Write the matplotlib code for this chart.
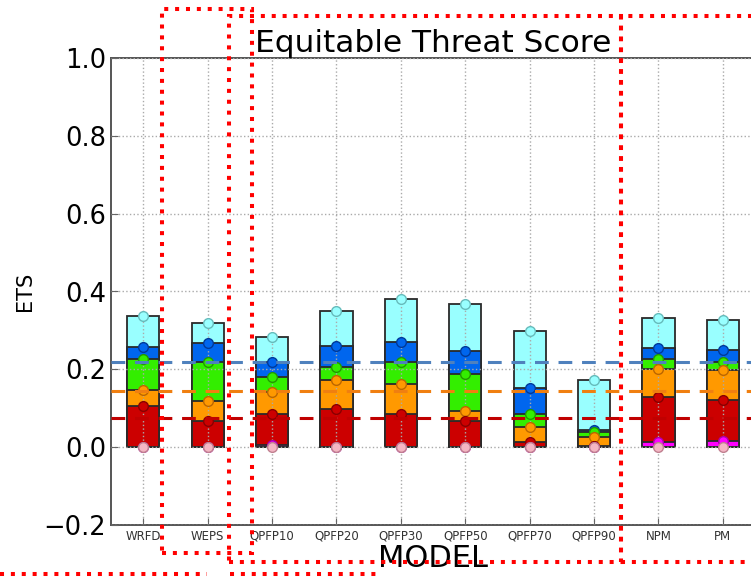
import matplotlib
matplotlib.use("Agg")
import matplotlib.pyplot as plt
import numpy as np
from matplotlib.patches import Rectangle
from matplotlib.lines import Line2D

models = ['WRFD', 'WEPS', 'QPFP10', 'QPFP20', 'QPFP30', 'QPFP50',
          'QPFP70', 'QPFP90', 'NPM', 'PM']

# ETS per threshold, lightest threshold first
ets_lvl1 = [0.338, 0.320, 0.282, 0.350, 0.380, 0.369, 0.298, 0.172, 0.332, 0.326]
ets_lvl2 = [0.258, 0.267, 0.219, 0.261, 0.269, 0.246, 0.153, 0.045, 0.254, 0.249]
ets_lvl3 = [0.226, 0.219, 0.181, 0.206, 0.219, 0.189, 0.085, 0.038, 0.226, 0.219]
ets_lvl4 = [0.148, 0.119, 0.142, 0.172, 0.163, 0.093, 0.052, 0.027, 0.200, 0.198]
ets_lvl5 = [0.106, 0.068, 0.085, 0.097, 0.084, 0.066, 0.012, 0.004, 0.129, 0.121]
ets_lvl6 = [0.0, 0.0, 0.005, 0.0, 0.0, 0.0, 0.0, 0.0, 0.012, 0.015]
ets_lvl7 = [0.0] * 10

# reference levels (dashed lines)
ref_values = [0.219, 0.145, 0.074]
ref_colors = ['#4f81bd', '#f07f10', '#c00000']

levels = [ets_lvl1, ets_lvl2, ets_lvl3, ets_lvl4, ets_lvl5, ets_lvl6, ets_lvl7]
fills = ['#99ffff', '#0066ee', '#33ee00', '#ff9900', '#cc0000', '#ff00ff', '#f4b6c4']
edges = ['#66bbbb', '#003a99', '#229900', '#bb6600', '#880000', '#aa00aa', '#c08090']

W, H = 751, 577
fig = plt.figure(figsize=(W / 100, H / 100), dpi=100)
# axes runs a little past the right edge
ax = fig.add_axes([111 / W, 1 - 525 / H, (755 - 111) / W, (525 - 58) / H])

x = np.arange(len(models))
for i, (vals, fc, ec) in enumerate(zip(levels, fills, edges)):
    ax.bar(x, vals, width=0.5, color=fc, edgecolor='#2a2a2a',
           linewidth=1.3, zorder=2 + i * 0.01)
for i, (vals, fc, ec) in enumerate(zip(levels, fills, edges)):
    ax.plot(x, vals, 'o', color=fc, mec=ec, mew=1.0, ms=7, zorder=5 + i * 0.01)

for v, c in zip(ref_values, ref_colors):
    ax.axhline(v, color=c, lw=2.2, dashes=(4.5, 3.2), zorder=6)

ax.set_xlim(-0.5, len(models) - 0.5)
ax.set_ylim(-0.2, 1.0)
ax.set_yticks(np.arange(-0.2, 1.01, 0.2))
ax.set_xticks(x)
ax.set_xticklabels(models, fontsize=8.5, color='#333333')
ax.tick_params(axis='y', labelsize=18.5, direction='in', length=5, color='#666666')
ax.tick_params(axis='x', direction='in', length=5, color='#666666')
ax.grid(True, linestyle=':', color='#aaaaaa', lw=1.0)
ax.set_axisbelow(False)
for s in ax.spines.values():
    s.set_color('#555555')
    s.set_linewidth(1.4)

ax.set_title('Equitable Threat Score', fontsize=22.5, pad=3)
ax.set_ylabel('ETS', fontsize=15, labelpad=6)
ax.set_xlabel('MODEL', fontsize=22, labelpad=1)


def px(xp, yp):
    return xp / W, 1 - yp / H


red_dots = dict(edgecolor='#ff0000', facecolor='none', lw=2.9,
                linestyle=(0, (1, 1.7)), transform=fig.transFigure, zorder=20)
for x0, y0, x1, y1 in [(162, 9, 252, 553), (229, 16, 621, 562), (621, 16, 770, 562)]:
    fx0, fy1 = px(x0, y1)
    fx1, fy0 = px(x1, y0)
    fig.add_artist(Rectangle((fx0, fy1), fx1 - fx0, fy0 - fy1, **red_dots))

for x0, x1 in [(0, 207), (230, 380)]:
    fig.add_artist(Line2D([x0 / W, x1 / W], [1 - 574 / H] * 2, color='#ff0000',
                          lw=2.9, linestyle=(0, (1, 1.7)),
                          transform=fig.transFigure, zorder=20))

fig.savefig('out.png', dpi=100)
